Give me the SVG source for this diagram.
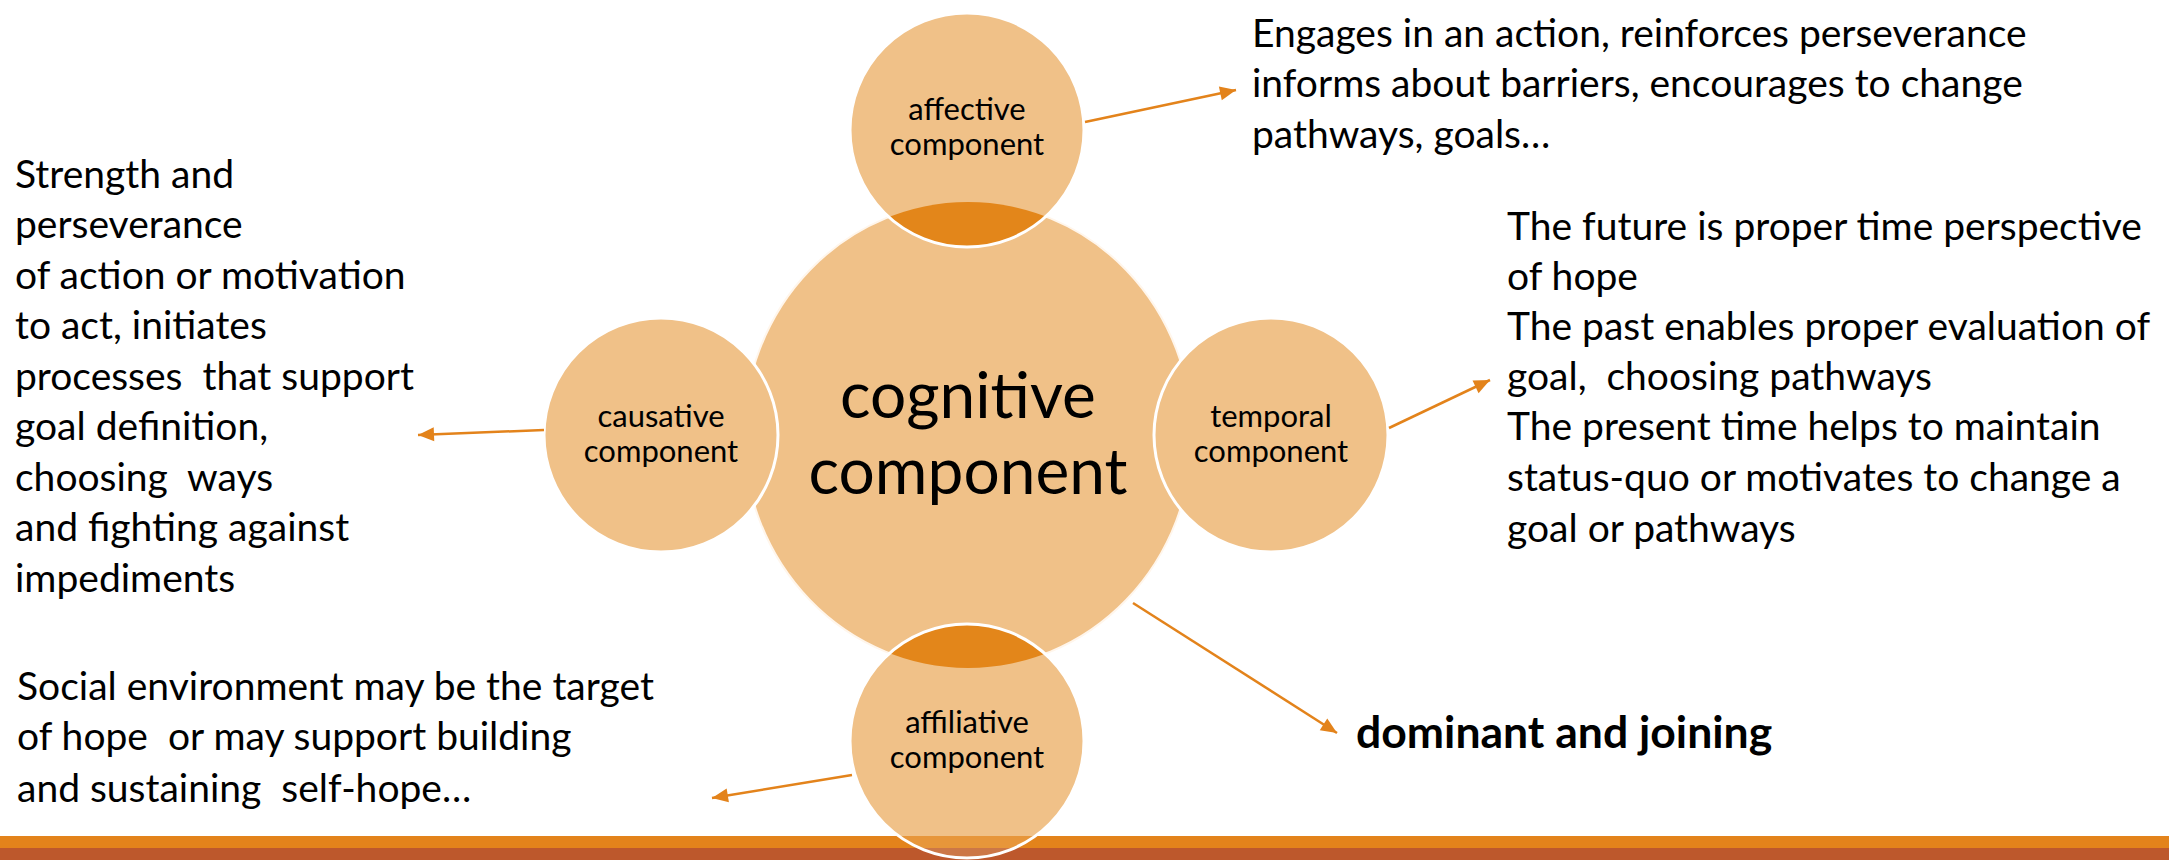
<svg xmlns="http://www.w3.org/2000/svg" width="2169" height="860" viewBox="0 0 2169 860">
<style>
.t{font-family:Lato,"Liberation Sans",sans-serif;font-size:39px;fill:#000;white-space:pre}
.lbl{font-family:Lato,"Liberation Sans",sans-serif;font-size:31px;fill:#000;text-anchor:middle}
.big{font-family:Lato,"Liberation Sans",sans-serif;font-size:64px;fill:#000;text-anchor:middle}
.bold{font-family:Lato,"Liberation Sans",sans-serif;font-size:44.5px;font-weight:bold;fill:#000}
.fill{fill:#F0C188}
.ring{fill:none;stroke:#FFFFFF;stroke-width:3}
.lens{fill:#E3861A}
.conn{stroke:#E3831B;stroke-width:2.5;fill:none;marker-end:url(#ah)}
</style>
<defs>
<marker id="ah" markerUnits="userSpaceOnUse" markerWidth="20" markerHeight="20" viewBox="0 0 20 20" refX="18" refY="10" orient="auto">
<path d="M2,3 L18,10 L2,17 z" fill="#E3831B"/>
</marker>
<clipPath id="cAff"><circle cx="967" cy="130" r="117"/></clipPath>
<clipPath id="cAfl"><circle cx="967" cy="741" r="117"/></clipPath>
</defs>
<rect width="2169" height="860" fill="#FFFFFF"/>
<g id="bars">
<rect x="0" y="836" width="2169" height="12" fill="#E3831B"/>
<rect x="0" y="848" width="2169" height="12" fill="#BD582C"/>
</g>
<g id="cognitive">
<ellipse cx="968" cy="435" rx="224" ry="233" class="fill" stroke="#FFF6EC" stroke-width="2"/>
<text class="big" x="968" y="418">cognitive</text>
<text class="big" x="968" y="494">component</text>
</g>
<g id="affective">
<circle cx="967" cy="130" r="117" class="fill"/>
<ellipse cx="968" cy="435" rx="224" ry="233" class="lens" clip-path="url(#cAff)"/>
<circle cx="967" cy="130" r="117" class="ring"/>
<text class="lbl" x="967" y="120">affective</text>
<text class="lbl" x="967" y="155">component</text>
</g>
<g id="causative">
<circle cx="661" cy="435" r="117" class="fill"/>
<circle cx="661" cy="435" r="117" class="ring"/>
<text class="lbl" x="661" y="427">causative</text>
<text class="lbl" x="661" y="462">component</text>
</g>
<g id="temporal">
<circle cx="1271" cy="435" r="117" class="fill"/>
<circle cx="1271" cy="435" r="117" class="ring"/>
<text class="lbl" x="1271" y="427">temporal</text>
<text class="lbl" x="1271" y="462">component</text>
</g>
<g id="affiliative">
<circle cx="967" cy="741" r="117" class="fill"/>
<ellipse cx="968" cy="435" rx="224" ry="233" class="lens" clip-path="url(#cAfl)"/>
<g clip-path="url(#cAfl)" opacity="0.7">
<rect x="0" y="836" width="2169" height="12" fill="#E3831B"/>
<rect x="0" y="848" width="2169" height="12" fill="#BD582C"/>
</g>
<circle cx="967" cy="741" r="117" class="ring"/>
<text class="lbl" x="967" y="733">affiliative</text>
<text class="lbl" x="967" y="768">component</text>
</g>
<g id="connectors">
<line class="conn" x1="1085" y1="122" x2="1236" y2="90"/>
<line class="conn" x1="544" y1="430" x2="418" y2="435"/>
<line class="conn" x1="1389" y1="428" x2="1490" y2="380"/>
<line class="conn" x1="1133" y1="603" x2="1337" y2="733"/>
<line class="conn" x1="852" y1="775" x2="712" y2="798"/>
</g>
<g id="affective-text">
<text class="t" x="1252" y="47">Engages in an action, reinforces perseverance</text>
<text class="t" x="1252" y="97">informs about barriers, encourages to change</text>
<text class="t" x="1252" y="148">pathways, goals…</text>
</g>
<g id="temporal-text">
<text class="t" x="1507" y="240">The future is proper time perspective</text>
<text class="t" x="1507" y="290">of hope</text>
<text class="t" x="1507" y="340">The past enables proper evaluation of</text>
<text class="t" x="1507" y="390">goal,  choosing pathways</text>
<text class="t" x="1507" y="440">The present time helps to maintain</text>
<text class="t" x="1507" y="491">status-quo or motivates to change a</text>
<text class="t" x="1507" y="542">goal or pathways</text>
</g>
<g id="causative-text">
<text class="t" x="15" y="188">Strength and</text>
<text class="t" x="15" y="238">perseverance</text>
<text class="t" x="15" y="289">of action or motivation</text>
<text class="t" x="15" y="339">to act, initiates</text>
<text class="t" x="15" y="390">processes  that support</text>
<text class="t" x="15" y="440">goal definition,</text>
<text class="t" x="15" y="491">choosing  ways</text>
<text class="t" x="15" y="541">and fighting against</text>
<text class="t" x="15" y="592">impediments</text>
</g>
<g id="affiliative-text">
<text class="t" x="17" y="700">Social environment may be the target</text>
<text class="t" x="17" y="750">of hope  or may support building</text>
<text class="t" x="17" y="802">and sustaining  self-hope…</text>
</g>
<g id="cognitive-text">
<text class="bold" x="1356" y="748">dominant and joining</text>
</g>
</svg>
